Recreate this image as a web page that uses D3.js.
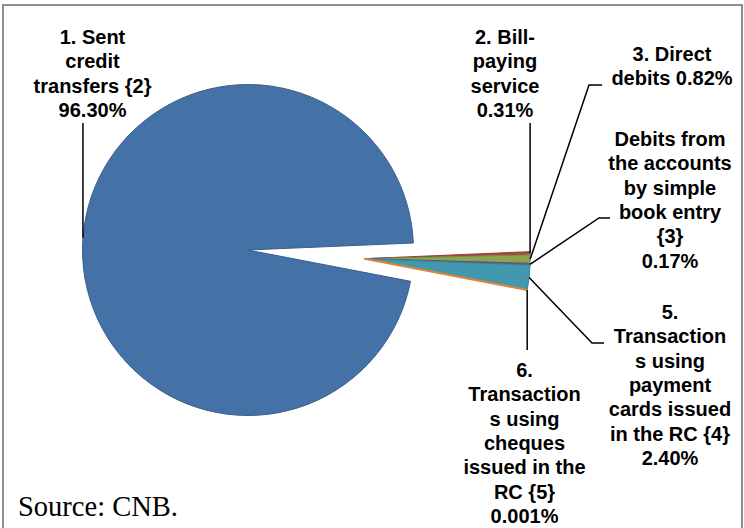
<!DOCTYPE html>
<html lang="en">
<head>
    <meta charset="UTF-8">
    <title>Payment transactions by type</title>
    <script src="https://cdn.jsdelivr.net/npm/d3@7"></script>
    <style>
        body { margin: 0; background: #fff; }
        text { font-family: "Liberation Sans", Arial, sans-serif; font-weight: bold; fill: #000; }
    </style>
</head>
<body>
    <svg width="744" height="528"></svg>
    <script>
        const width = 744;
        const height = 528;

        // data
        const categories = [
            ['1. Sent', 'credit', 'transfers {2}'],
            ['2. Bill-', 'paying', 'service'],
            ['3. Direct', 'debits'],
            ['Debits from', 'the accounts', 'by simple', 'book entry', '{3}'],
            ['5.', 'Transaction', 's using', 'payment', 'cards issued', 'in the RC {4}'],
            ['6.', 'Transaction', 's using', 'cheques', 'issued in the', 'RC {5}']
        ];
        const values = [96.30, 0.31, 0.82, 0.17, 2.40, 0.001];
        const pctLabels = ['96.30%', '0.31%', '0.82%', '0.17%', '2.40%', '0.001%'];
        const colors = ['#4471a6', '#aa4643', '#89a54e', '#71588f', '#4198af', '#db843d'];

        // layout of labels (first baseline, centre x, leader bend points)
        const labelPos = [
            {x: 92.5, y: 44, leader: [[null, 123]]},
            {x: 505, y: 44, leader: [[null, 123]]},
            {x: 672, y: 61, inline: true, leader: [[589, 85], [602, 85]]},
            {x: 670, y: 146, leader: [[599, 218], [610, 218]]},
            {x: 670, y: 319, leader: [[592, 343], [604, 343]]},
            {x: 524.5, y: 377, leader: [[null, 350]]}
        ];

        const cx = 248, cy = 250, radius = 165.5;
        const explode = 117;
        const lineH = 24.3;
        const start = 100.9 * Math.PI / 180;

        const svg = d3.select('svg');

        // frame
        svg.append('rect')
            .attr('x', 3).attr('y', 5)
            .attr('width', 739).attr('height', 560)
            .attr('fill', 'none')
            .attr('stroke', '#8f8f8f')
            .attr('stroke-width', 2);

        const pie = d3.pie().sort(null).value(d => d)
            .startAngle(start).endAngle(start + 2 * Math.PI);
        const arcs = pie(values);
        const arc = d3.arc().innerRadius(0).outerRadius(radius);

        // small slices pulled out together along their common bisector
        const gMid = (arcs[1].startAngle + arcs[arcs.length - 1].endAngle) / 2;
        const off = [explode * Math.sin(gMid), -explode * Math.cos(gMid)];
        const shift = i => i === 0 ? [0, 0] : off;

        const g = svg.append('g').attr('transform', `translate(${cx},${cy})`);

        g.selectAll('path').data(arcs).enter().append('path')
            .attr('transform', (d, i) => `translate(${shift(i)})`)
            .attr('d', arc)
            .attr('fill', (d, i) => colors[i])
            .attr('stroke', (d, i) => i === 0 ? '#3a5f8d' : (i === 5 ? colors[i] : d3.color(colors[i]).darker(0.4)))
            .attr('stroke-width', (d, i) => i === 5 ? 2 : 1)
            .attr('stroke-linejoin', 'round');

        // leader lines
        const edgePoint = (d, i) => {
            const a = (d.startAngle + d.endAngle) / 2;
            const s = shift(i);
            return [cx + s[0] + radius * Math.sin(a), cy + s[1] - radius * Math.cos(a)];
        };

        arcs.forEach((d, i) => {
            const p0 = edgePoint(d, i);
            const pts = [p0].concat(labelPos[i].leader.map(p => [p[0] === null ? p0[0] : p[0], p[1]]));
            svg.append('path')
                .attr('d', d3.line()(pts))
                .attr('fill', 'none')
                .attr('stroke', '#000')
                .attr('stroke-width', 1.5);
        });

        // labels
        arcs.forEach((d, i) => {
            const lp = labelPos[i];
            let lines = categories[i].slice();
            if (lp.inline) lines[lines.length - 1] += ' ' + pctLabels[i];
            else lines.push(pctLabels[i]);
            const t = svg.append('text')
                .attr('text-anchor', 'middle')
                .attr('font-size', 20);
            lines.forEach((s, k) => {
                t.append('tspan')
                    .attr('x', lp.x)
                    .attr('y', lp.y + k * lineH)
                    .text(s);
            });
        });

        svg.append('text')
            .attr('x', 18).attr('y', 516)
            .style('font-family', '"Liberation Serif", "Times New Roman", serif')
            .style('font-weight', 'normal')
            .attr('font-size', 28.5)
            .text('Source: CNB.');
    </script>
</body>
</html>
